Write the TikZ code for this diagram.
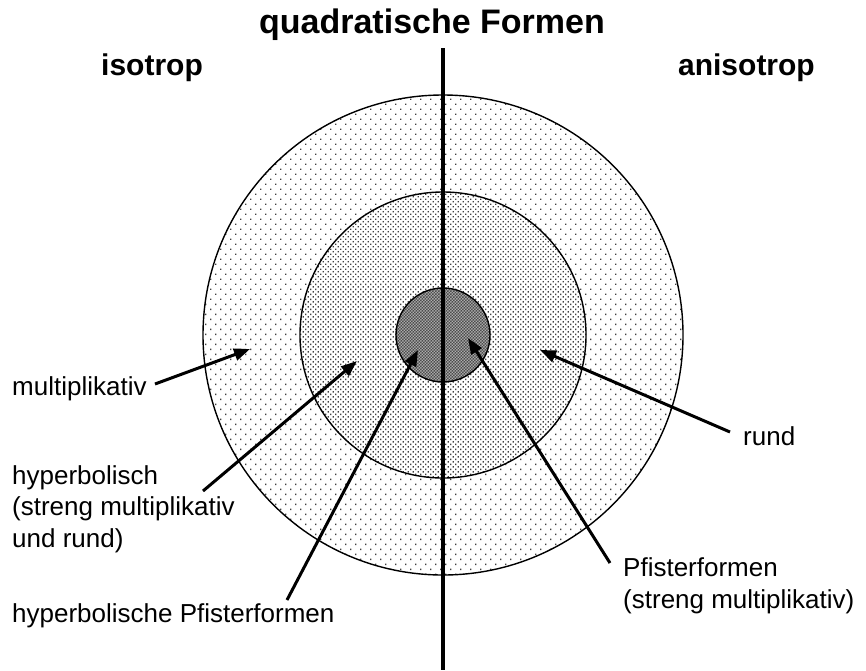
\documentclass[tikz,border=0pt]{standalone}
\usepackage{fontspec}
\setmainfont{Liberation Sans}
\usetikzlibrary{patterns,arrows.meta}
\pgfdeclarepatternformonly{sparsedots}{\pgfqpoint{-1pt}{-1pt}}{\pgfqpoint{11pt}{11pt}}{\pgfqpoint{10pt}{10pt}}{%
  \pgfpathrectangle{\pgfqpoint{0pt}{0pt}}{\pgfqpoint{1.3pt}{1.3pt}}%
  \pgfpathrectangle{\pgfqpoint{5pt}{5pt}}{\pgfqpoint{1.3pt}{1.3pt}}%
  \pgfusepath{fill}}
\pgfdeclarepatternformonly{densedots}{\pgfqpoint{-1pt}{-1pt}}{\pgfqpoint{6pt}{6pt}}{\pgfqpoint{5pt}{5pt}}{%
  \pgfpathrectangle{\pgfqpoint{0pt}{0pt}}{\pgfqpoint{1.3pt}{1.3pt}}%
  \pgfpathrectangle{\pgfqpoint{2.5pt}{2.5pt}}{\pgfqpoint{1.3pt}{1.3pt}}%
  \pgfusepath{fill}}
\pgfdeclarepatternformonly{checker}{\pgfqpoint{-1pt}{-1pt}}{\pgfqpoint{4pt}{4pt}}{\pgfqpoint{3pt}{3pt}}{%
  \pgfpathrectangle{\pgfqpoint{0pt}{0pt}}{\pgfqpoint{1.5pt}{1.5pt}}%
  \pgfpathrectangle{\pgfqpoint{1.5pt}{1.5pt}}{\pgfqpoint{1.5pt}{1.5pt}}%
  \pgfusepath{fill}}
\tikzset{
  lbl/.style={font=\fontsize{26}{31.5}\selectfont, inner sep=0pt, anchor=base west, align=left},
  head/.style={font=\fontsize{30}{36}\selectfont\bfseries, inner sep=0pt},
  ring/.style={draw=black, line width=1.4pt},
  arr/.style={line width=3pt, -{Triangle[length=16pt,width=12pt]}},
}
\begin{document}
\begin{tikzpicture}[x=1pt,y=-1pt]
\useasboundingbox (0,0) rectangle (866,670);
\coordinate (c) at (443,335);
% filled rings
\fill[white] (c) circle[radius=240];
\fill[pattern=sparsedots, pattern color=black!75] (c) circle[radius=240];
\fill[white] (c) circle[radius=143];
\fill[pattern=densedots, pattern color=black!75] (c) circle[radius=143];
\fill[gray!60] (c) circle[radius=47];
\fill[pattern=checker, pattern color=black!70] (c) circle[radius=47];
\draw[ring] (c) circle[radius=240];
\draw[ring] (c) circle[radius=143];
\draw[ring] (c) circle[radius=47];
% dividing line
\coordinate (ltop) at (443,48);
\coordinate (lbot) at (443,670);
\draw[line width=4pt] (ltop) -- (lbot);
% headings
\node[head, font=\fontsize{34}{40}\selectfont\bfseries, anchor=base] (title) at (432,33) {quadratische Formen};
\node[head, anchor=base west] (iso) at (101,75) {isotrop};
\node[head, anchor=base east] (aniso) at (815,75) {anisotrop};
% labels (base anchor = baseline of the last line)
\node[lbl] (mult) at (12,395) {multiplikativ};
\node[lbl] (hyp) at (12,547) {hyperbolisch\\(streng multiplikativ\\und rund)};
\node[lbl] (hyppf) at (12,622) {hyperbolische Pfisterformen};
\node[lbl] (rund) at (743,445) {rund};
\node[lbl] (pf) at (623,608) {Pfisterformen\\(streng multiplikativ)};
% arrow end points
\coordinate (multS) at (155,384); \coordinate (multT) at (250,349);
\coordinate (hypS) at (203,491);  \coordinate (hypT) at (357,361);
\coordinate (hyppfS) at (287,600);\coordinate (hyppfT) at (418,350);
\coordinate (pfS) at (610,563);   \coordinate (pfT) at (468,338);
\coordinate (rundS) at (730,432); \coordinate (rundT) at (540,350);
\draw[arr] (multS) -- (multT);
\draw[arr] (hypS) -- (hypT);
\draw[arr] (hyppfS) -- (hyppfT);
\draw[arr] (pfS) -- (pfT);
\draw[arr] (rundS) -- (rundT);
\end{tikzpicture}
\end{document}
